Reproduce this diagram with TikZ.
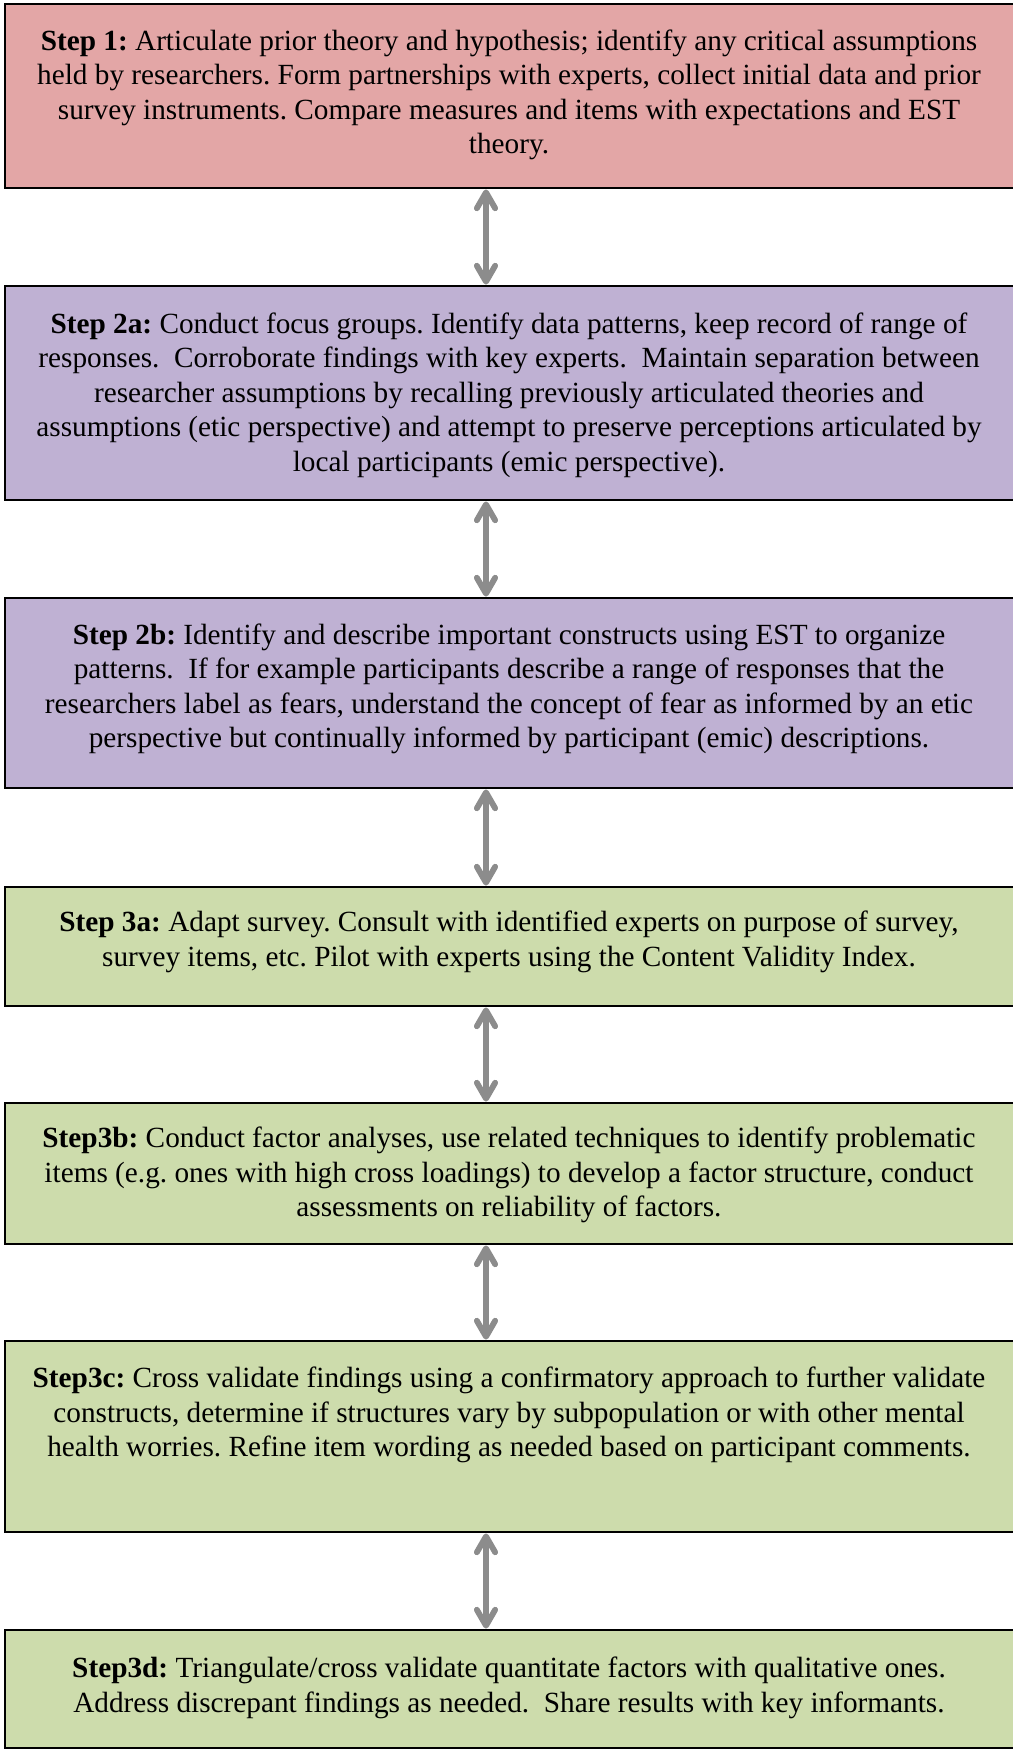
\documentclass[tikz,border=0pt]{standalone}
\usepackage{fontspec}
\setmainfont{Liberation Serif}
\usetikzlibrary{arrows.meta,fit,calc}
\definecolor{pinkbox}{RGB}{227,166,166}
\definecolor{purplebox}{RGB}{191,177,211}
\definecolor{greenbox}{RGB}{205,220,172}
\definecolor{arrowgray}{RGB}{140,140,140}
\begin{document}
\frenchspacing
\begin{tikzpicture}[x=0.41pt,y=-0.41pt,
  box/.style={draw=black,line width=1.2pt,inner sep=0pt},
  txt/.style={align=center,font=\fontsize{12}{14.15}\selectfont,inner sep=0pt},
  link/.style={draw=arrowgray,line width=2.4pt,
    {Straight Barb[length=6.5pt,width=7.5pt,round]}-{Straight Barb[length=6.5pt,width=7.5pt,round]}}]
\useasboundingbox (0,0) rectangle (1013,1750);

% boxes
\node[box,fill=pinkbox,fit={(5,4) (1014,188)}] (b1) {};
\node[box,fill=purplebox,fit={(5,286) (1014,500)}] (b2a) {};
\node[box,fill=purplebox,fit={(5,598) (1014,788)}] (b2b) {};
\node[box,fill=greenbox,fit={(5,887) (1014,1006)}] (b3a) {};
\node[box,fill=greenbox,fit={(5,1103) (1014,1244)}] (b3b) {};
\node[box,fill=greenbox,fit={(5,1341) (1014,1532)}] (b3c) {};
\node[box,fill=greenbox,fit={(5,1630) (1014,1748)}] (b3d) {};

% texts
\node[txt] (t1) at (509,95) {\textbf{Step 1:} Articulate prior theory and hypothesis; identify any critical assumptions\\
held by researchers. Form partnerships with experts, collect initial data and prior\\
survey instruments. Compare measures and items with expectations and EST\\
theory.};
\node[txt] (t2a) at (509,395) {\textbf{Step 2a:} Conduct focus groups. Identify data patterns, keep record of range of\\
responses.\ \ Corroborate findings with key experts.\ \ Maintain separation between\\
researcher assumptions by recalling previously articulated theories and\\
assumptions (etic perspective) and attempt to preserve perceptions articulated by\\
local participants (emic perspective).};
\node[txt] (t2b) at (509,689) {\textbf{Step 2b:} Identify and describe important constructs using EST to organize\\
patterns.\ \ If for example participants describe a range of responses that the\\
researchers label as fears, understand the concept of fear as informed by an etic\\
perspective but continually informed by participant (emic) descriptions.};
\node[txt] (t3a) at (509,942) {\textbf{Step 3a:} Adapt survey. Consult with identified experts on purpose of survey,\\
survey items, etc. Pilot with experts using the Content Validity Index.};
\node[txt] (t3b) at (509,1175) {\textbf{Step3b:} Conduct factor analyses, use related techniques to identify problematic\\
items (e.g. ones with high cross loadings) to develop a factor structure, conduct\\
assessments on reliability of factors.};
\node[txt] (t3c) at (509,1415) {\textbf{Step3c:} Cross validate findings using a confirmatory approach to further validate\\
constructs, determine if structures vary by subpopulation or with other mental\\
health worries. Refine item wording as needed based on participant comments.};
\node[txt] (t3d) at (509,1688) {\textbf{Step3d:} Triangulate/cross validate quantitate factors with qualitative ones.\\
Address discrepant findings as needed.\ \ Share results with key informants.};

% connectors
\draw[link] ($(b1.south)+(-23.5,0)$) -- ($(b2a.north)+(-23.5,0)$);
\draw[link] ($(b2a.south)+(-23.5,0)$) -- ($(b2b.north)+(-23.5,0)$);
\draw[link] ($(b2b.south)+(-23.5,0)$) -- ($(b3a.north)+(-23.5,0)$);
\draw[link] ($(b3a.south)+(-23.5,0)$) -- ($(b3b.north)+(-23.5,0)$);
\draw[link] ($(b3b.south)+(-23.5,0)$) -- ($(b3c.north)+(-23.5,0)$);
\draw[link] ($(b3c.south)+(-23.5,0)$) -- ($(b3d.north)+(-23.5,0)$);
\end{tikzpicture}
\end{document}
